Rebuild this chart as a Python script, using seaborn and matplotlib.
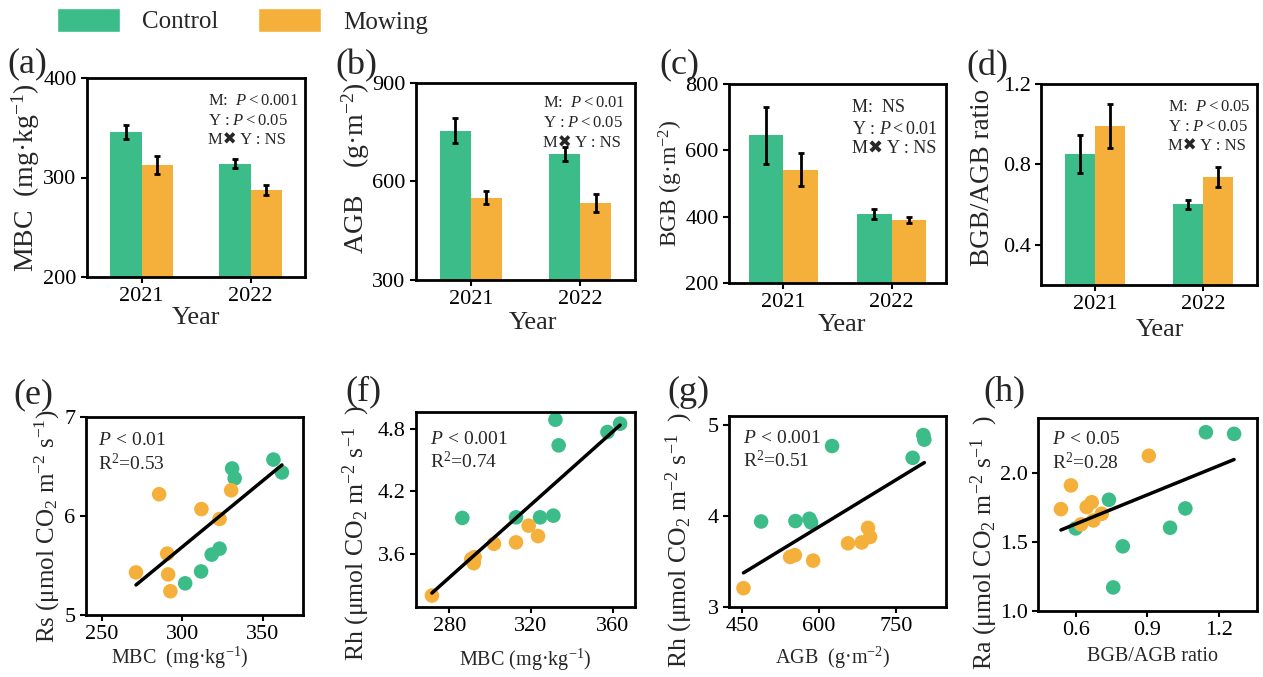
import numpy as np
import pandas as pd
import matplotlib
matplotlib.use("Agg")
import matplotlib.pyplot as plt
import seaborn as sns
from matplotlib.patches import Patch

sns.set_style("ticks")
plt.rcParams["font.family"] = ["Liberation Serif", "Noto Sans CJK SC", "DejaVu Sans"]
plt.rcParams["mathtext.fontset"] = "custom"
plt.rcParams["mathtext.rm"] = "Liberation Serif"
plt.rcParams["mathtext.it"] = "Liberation Serif:italic"
plt.rcParams["mathtext.bf"] = "Liberation Serif:bold"

GREEN = "#3bbc88"
ORANGE = "#f5b03b"

years = ["2021", "2022"]
treatments = ["Control", "Mowing"]

# ---- bar data (mean, SE) ----
mbc_control = [346, 314]
mbc_control_se = [7, 4.5]
mbc_mowing = [313, 287]
mbc_mowing_se = [9, 5]

agb_control = [755, 684]
agb_control_se = [39, 21]
agb_mowing = [551, 535]
agb_mowing_se = [20, 27]

bgb_control = [645, 409]
bgb_control_se = [85, 15]
bgb_mowing = [542, 390]
bgb_mowing_se = [51, 9]

ratio_control = [0.850, 0.601]
ratio_control_se = [0.095, 0.022]
ratio_mowing = [0.991, 0.739]
ratio_mowing_se = [0.11, 0.05]

# ---- scatter data ----
e_mbc_control = [356.6, 361.9, 330.9, 332.5, 323.1, 318.2, 311.6, 301.7]
e_rs_control = [6.57, 6.44, 6.48, 6.38, 5.67, 5.61, 5.44, 5.32]
e_mbc_mowing = [285.5, 311.8, 330.3, 323.1, 290.5, 271.1, 291.1, 292.5]
e_rs_mowing = [6.22, 6.07, 6.26, 5.97, 5.62, 5.43, 5.41, 5.24]

f_mbc_control = [332.0, 363.7, 357.5, 333.6, 286.4, 312.7, 324.5, 331.0]
f_rh_control = [4.886, 4.848, 4.768, 4.64, 3.944, 3.95, 3.95, 3.966]
f_mbc_mowing = [318.9, 323.5, 312.7, 301.9, 292.4, 292.0, 290.8, 271.5]
f_rh_mowing = [3.87, 3.77, 3.71, 3.696, 3.568, 3.51, 3.55, 3.20]

g_agb_control = [625.9, 803.8, 805.7, 783.0, 487.6, 554.5, 581.7, 585.0]
g_rh_control = [4.77, 4.89, 4.84, 4.64, 3.94, 3.945, 3.97, 3.93]
g_agb_mowing = [696.0, 700.0, 683.8, 657.0, 544.1, 553.3, 589.0, 453.2]
g_rh_mowing = [3.87, 3.77, 3.71, 3.70, 3.55, 3.57, 3.51, 3.207]

h_ratio_control = [1.145, 1.263, 0.739, 1.059, 0.995, 0.797, 0.757, 0.600]
h_ra_control = [2.297, 2.285, 1.807, 1.744, 1.604, 1.469, 1.171, 1.599]
h_ratio_mowing = [0.906, 0.580, 0.538, 0.667, 0.646, 0.709, 0.674, 0.622]
h_ra_mowing = [2.126, 1.911, 1.739, 1.789, 1.754, 1.705, 1.657, 1.628]

W, H = 1263, 677
fig = plt.figure(figsize=(W / 100, H / 100), dpi=100)


def px_axes(x0, x1, y0, y1):
    return fig.add_axes([x0 / W, (H - y1) / H, (x1 - x0) / W, (y1 - y0) / H])


def style(ax, labelsize=16):
    for s in ax.spines.values():
        s.set_visible(True)
        s.set_linewidth(2)
        s.set_color("black")
    ax.tick_params(direction="out", width=1.5, length=4, labelsize=labelsize,
                   colors="black")
    ax.grid(False)


def bar_panel(ax, ctrl, ctrl_se, mow, mow_se, width):
    df = pd.DataFrame({
        "Year": years * 2,
        "Treatment": ["Control"] * 2 + ["Mowing"] * 2,
        "value": ctrl + mow,
        "se": ctrl_se + mow_se,
    })
    sns.barplot(data=df, x="Year", y="value", hue="Treatment",
                hue_order=treatments, palette=[GREEN, ORANGE], saturation=1,
                width=width, errorbar=None, legend=False, linewidth=0, ax=ax)
    for p in list(ax.patches):
        h = p.get_height()
        row = df.iloc[(df["value"] - h).abs().argmin()]
        ax.errorbar(p.get_x() + p.get_width() / 2, h, yerr=row["se"],
                    fmt="none", ecolor="black", elinewidth=2, capsize=2.5,
                    capthick=2, zorder=5)
    ax.set_xlim(-0.5, 1.5)


def scatter_panel(ax, xc, yc, xm, ym):
    df = pd.DataFrame({
        "x": xc + xm,
        "y": yc + ym,
        "Treatment": ["Control"] * len(xc) + ["Mowing"] * len(xm),
    })
    sns.scatterplot(data=df, x="x", y="y", hue="Treatment",
                    hue_order=treatments, palette=[GREEN, ORANGE], s=110,
                    linewidth=0, legend=False, ax=ax, zorder=2)
    sns.regplot(data=df, x="x", y="y", scatter=False, ci=None, truncate=True,
                color="black", line_kws={"lw": 2.5, "zorder": 3}, ax=ax)


def annot(ax, x, ys, lines, fs=12):
    for y, t in zip(ys, lines):
        ax.text(x, y, t, transform=ax.transAxes, fontsize=fs, va="baseline",
                ha="left")


# ---------------- top row ----------------
ax_a = px_axes(87, 305, 78, 277)
bar_panel(ax_a, mbc_control, mbc_control_se, mbc_mowing, mbc_mowing_se, 0.57)
ax_a.set_ylim(200, 400)
ax_a.set_yticks([200, 300, 400])
style(ax_a)
ax_a.set_ylabel(r"MBC  (mg·kg$^{-1}$)", fontsize=20)
ax_a.yaxis.set_label_coords(-0.205, 0.5)
ax_a.set_xlabel("Year", fontsize=19)
ax_a.xaxis.set_label_coords(0.5, -0.15)
annot(ax_a, 0.555, [0.864, 0.764, 0.667],
      [r"M:  $P<0.001$", r"Y : $P<0.05$", "M✖ Y : NS"])

ax_b = px_axes(416, 635, 83, 280)
bar_panel(ax_b, agb_control, agb_control_se, agb_mowing, agb_mowing_se, 0.57)
ax_b.set_ylim(300, 900)
ax_b.set_yticks([300, 600, 900])
style(ax_b)
ax_b.set_ylabel(r"AGB    (g·m$^{-2}$)", fontsize=20)
ax_b.yaxis.set_label_coords(-0.2, 0.566)
ax_b.set_xlabel("Year", fontsize=19)
ax_b.xaxis.set_label_coords(0.534, -0.162)
annot(ax_b, 0.58, [0.88, 0.775, 0.673],
      [r"M:  $P<0.01$", r"Y : $P<0.05$", "M✖ Y : NS"])

ax_c = px_axes(729, 946, 84, 283)
bar_panel(ax_c, bgb_control, bgb_control_se, bgb_mowing, bgb_mowing_se, 0.64)
ax_c.set_ylim(200, 800)
ax_c.set_yticks([200, 400, 600, 800])
style(ax_c)
ax_c.set_ylabel(r"BGB (g·m$^{-2}$)", fontsize=17)
ax_c.yaxis.set_label_coords(-0.203, 0.5)
ax_c.set_xlabel("Year", fontsize=19)
ax_c.xaxis.set_label_coords(0.52, -0.156)
annot(ax_c, 0.565, [0.861, 0.749, 0.652],
      ["M:  NS", r"Y : $P<0.01$", "M✖ Y : NS"], fs=13)

ax_d = px_axes(1041, 1257, 84, 285)
bar_panel(ax_d, ratio_control, ratio_control_se, ratio_mowing,
          ratio_mowing_se, 0.55)
ax_d.set_ylim(0.2, 1.2)
ax_d.set_yticks([0.4, 0.8, 1.2])
style(ax_d)
ax_d.set_ylabel("BGB/AGB ratio", fontsize=19.5)
ax_d.yaxis.set_label_coords(-0.213, 0.535)
ax_d.set_xlabel("Year", fontsize=19)
ax_d.xaxis.set_label_coords(0.551, -0.17)
annot(ax_d, 0.588, [0.867, 0.768, 0.672],
      [r"M:  $P<0.05$", r"Y : $P<0.05$", "M✖ Y : NS"])

# ---------------- bottom row ----------------
ax_e = px_axes(86, 303, 417, 615)
scatter_panel(ax_e, e_mbc_control, e_rs_control, e_mbc_mowing, e_rs_mowing)
ax_e.set_xlim(240, 375)
ax_e.set_ylim(5, 7)
ax_e.set_xticks([250, 300, 350])
ax_e.set_yticks([5, 6, 7])
style(ax_e)
ax_e.set_ylabel(r"Rs (μmol CO$_2$ m$^{-2}$ s$^{-1}$)", fontsize=18)
ax_e.yaxis.set_label_coords(-0.11, 0.447)
ax_e.set_xlabel(r"MBC  (mg·kg$^{-1}$)", fontsize=14.5)
ax_e.xaxis.set_label_coords(0.433, -0.152)
annot(ax_e, 0.055, [0.859, 0.732], [r"$P\,<\,0.01$", r"R$^2$=0.53"], fs=14)

ax_f = px_axes(416, 635, 412, 607)
scatter_panel(ax_f, f_mbc_control, f_rh_control, f_mbc_mowing, f_rh_mowing)
ax_f.set_xlim(263.7, 371)
ax_f.set_ylim(3.09, 4.96)
ax_f.set_xticks([280, 320, 360])
ax_f.set_yticks([3.6, 4.2, 4.8])
style(ax_f)
ax_f.set_ylabel(r"Rh (μmol CO$_2$ m$^{-2}$ s$^{-1}$  )", fontsize=18.5)
ax_f.yaxis.set_label_coords(-0.202, 0.382)
ax_f.set_xlabel(r"MBC (mg·kg$^{-1}$)", fontsize=14.5)
ax_f.xaxis.set_label_coords(0.5, -0.205)
annot(ax_f, 0.064, [0.836, 0.714], [r"$P\,<\,0.001$", r"R$^2$=0.74"], fs=14)

ax_g = px_axes(729, 946, 416, 607)
scatter_panel(ax_g, g_agb_control, g_rh_control, g_agb_mowing, g_rh_mowing)
ax_g.set_xlim(425, 848)
ax_g.set_ylim(3, 5.1)
ax_g.set_xticks([450, 600, 750])
ax_g.set_yticks([3, 4, 5])
style(ax_g)
ax_g.set_ylabel(r"Rh (μmol CO$_2$ m$^{-2}$ s$^{-1}$  )", fontsize=18.5)
ax_g.yaxis.set_label_coords(-0.157, 0.351)
ax_g.set_xlabel(r"AGB  (g·m$^{-2}$)", fontsize=14.5)
ax_g.xaxis.set_label_coords(0.475, -0.199)
annot(ax_g, 0.063, [0.86, 0.731], [r"$P\,<\,0.001$", r"R$^2$=0.51"], fs=14)

ax_h = px_axes(1038, 1257, 418, 611)
scatter_panel(ax_h, h_ratio_control, h_ra_control, h_ratio_mowing,
              h_ra_mowing)
ax_h.set_xlim(0.442, 1.359)
ax_h.set_ylim(1.0, 2.4)
ax_h.set_xticks([0.6, 0.9, 1.2])
ax_h.set_yticks([1.0, 1.5, 2.0])
style(ax_h)
ax_h.set_ylabel(r"Ra (μmol CO$_2$ m$^{-2}$ s$^{-1}$  )", fontsize=18.5)
ax_h.yaxis.set_label_coords(-0.174, 0.355)
ax_h.set_xlabel("BGB/AGB ratio", fontsize=14.5)
ax_h.xaxis.set_label_coords(0.523, -0.187)
annot(ax_h, 0.063, [0.865, 0.734], [r"$P\,<\,0.05$", r"R$^2$=0.28"], fs=14)

# ---------------- panel labels ----------------
labels = ["(a)", "(b)", "(c)", "(d)", "(e)", "(f)", "(g)", "(h)"]
label_xy = [(7, 64), (335, 66), (659, 65), (966, 67),
            (13, 395), (345, 392), (667, 392), (983, 392)]
for t, (x, y) in zip(labels, label_xy):
    fig.text(x / W, 1 - y / H, t, fontsize=26, ha="left", va="center")

# ---------------- legend ----------------
handles = [Patch(facecolor=GREEN, label="Control"),
           Patch(facecolor=ORANGE, label="Mowing")]
fig.legend(handles=handles, loc="upper left", bbox_to_anchor=(57 / W, 1 - 8 / H),
           ncol=2, frameon=False, fontsize=18, handlelength=2.5,
           handleheight=1.1, handletextpad=0.9, columnspacing=1.6,
           borderpad=0, borderaxespad=0)

fig.savefig("out.png", dpi=100)
